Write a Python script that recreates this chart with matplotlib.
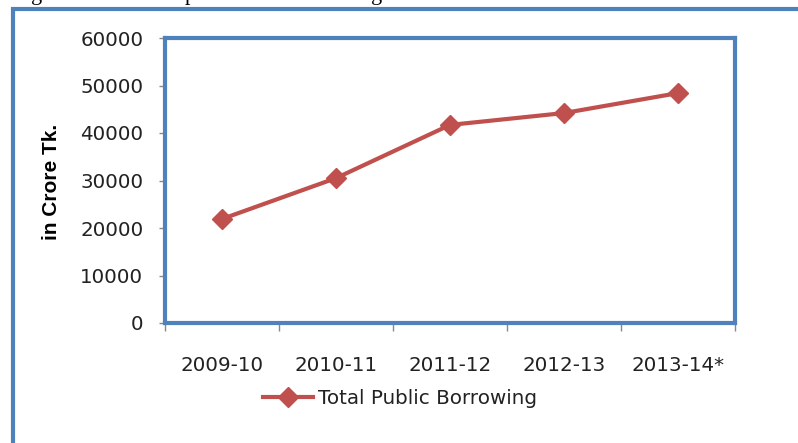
import matplotlib

matplotlib.use("Agg")
import matplotlib.pyplot as plt
from matplotlib.patches import Rectangle

W, H = 798, 443
BLUE = "#4F81BD"
RED = "#C0504D"

years = ["2009-10", "2010-11", "2011-12", "2012-13", "2013-14*"]
borrowing = [21900, 30500, 41700, 44200, 48400]
y_ticks = [0, 10000, 20000, 30000, 40000, 50000, 60000]

plt.rcParams["font.family"] = "DejaVu Sans"

fig = plt.figure(figsize=(W / 100, H / 100), dpi=100)

# outer chart frame (cut off at right/bottom in the source image)
fig.add_artist(Rectangle((13 / W, -0.05), 1.2, 1 - 9 / H + 0.05,
                         transform=fig.transFigure, fill=False,
                         ec=BLUE, lw=3))

# descenders of the cropped caption above the chart
for ch, px in [("g", 37), ("p", 190), ("g", 377)]:
    fig.text(px / W, 1.0, ch, ha="center", va="baseline",
             family="Liberation Serif", fontsize=16, color="black")

ax = fig.add_axes([165 / W, 1 - 323 / H, 570 / W, 285 / H])
x = range(len(years))
ax.plot(x, borrowing, color=RED, lw=3, marker="D", ms=10,
        label="Total Public Borrowing")

ax.set_ylim(0, 60000)
ax.set_yticks(y_ticks)
ax.set_xlim(-0.5, len(years) - 0.5)
ax.set_xticks([i - 0.5 for i in range(len(years) + 1)])
ax.set_xticklabels([])
ax.set_xticks(list(x), minor=True)
ax.set_xticklabels(years, minor=True)

ax.tick_params(axis="y", direction="out", length=4, width=1, color="#888888",
               labelsize=14.3, pad=11.5, labelcolor="#222222")
ax.tick_params(axis="x", which="major", direction="out", length=6, width=1,
               color="#888888")
ax.tick_params(axis="x", which="minor", length=0, labelsize=14.3, pad=24,
               labelcolor="#222222")

for s in ax.spines.values():
    s.set_color(BLUE)
    s.set_linewidth(3)

ax.set_ylabel("in Crore Tk.", family="Liberation Sans", fontweight="bold",
              fontsize=15)
ax.yaxis.set_label_coords((61 - 165) / 570, (323 - 182) / 285)

fig.legend(loc="center", bbox_to_anchor=(400 / W, 1 - 398 / H), frameon=False,
           fontsize=14.3, handlelength=2.5, handletextpad=0.25,
           labelcolor="#222222")

fig.savefig("out.png", dpi=100)
